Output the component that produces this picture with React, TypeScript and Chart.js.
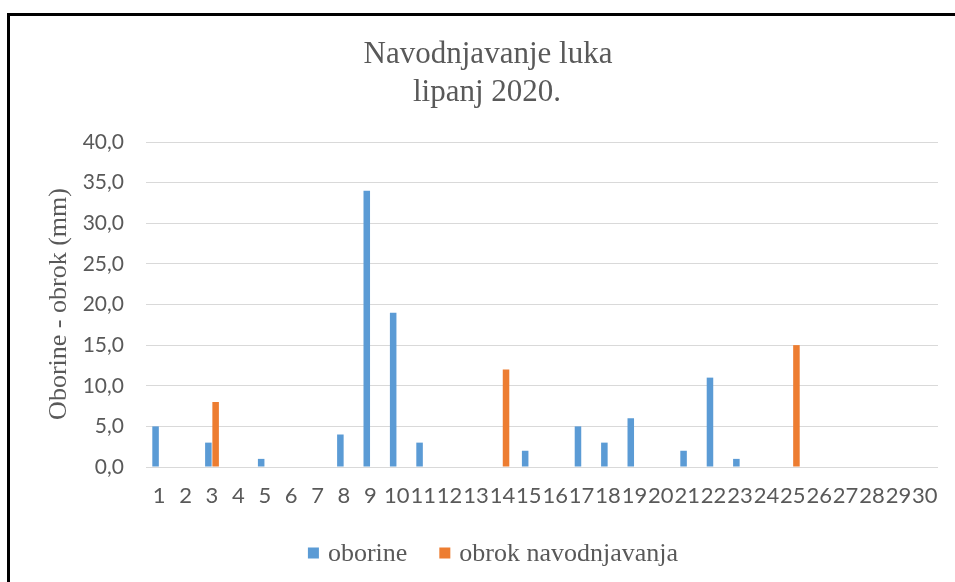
import React, { useEffect, useRef } from 'react';
import { Chart, registerables } from 'chart.js';

Chart.register(...registerables);

const days: string[] = [
  '1', '2', '3', '4', '5', '6', '7', '8', '9', '10',
  '11', '12', '13', '14', '15', '16', '17', '18', '19', '20',
  '21', '22', '23', '24', '25', '26', '27', '28', '29', '30',
];

const oborine: (number | null)[] = [
  5, null, 3, null, 1, null, null, 4, 34, 19,
  3, null, null, null, 2, null, 5, 3, 6, null,
  2, 11, 1, null, null, null, null, null, null, null,
];

const obrokNavodnjavanja: (number | null)[] = [
  null, null, 8, null, null, null, null, null, null, null,
  null, null, null, 12, null, null, null, null, null, null,
  null, null, null, null, 15, null, null, null, null, null,
];

const seriesNames: string[] = ['oborine', 'obrok navodnjavanja'];
const titleLines: string[] = ['Navodnjavanje luka', 'lipanj 2020.'];
const yAxisTitle = 'Oborine - obrok (mm)';
const yMin = 0;
const yMax = 40;
const yStep = 5;

const BLUE = '#5b9bd5';
const ORANGE = '#ed7d31';
const TEXT = '#595959';
const GRID = '#d9d9d9';

const decorPlugin = {
  id: 'decor',
  afterDraw(chart: any) {
    const ctx = chart.ctx as CanvasRenderingContext2D;
    ctx.save();
    // Title
    ctx.fillStyle = TEXT;
    ctx.font = '31px "Liberation Serif", "Times New Roman", serif';
    ctx.textAlign = 'center';
    ctx.textBaseline = 'alphabetic';
    ctx.fillText(titleLines[0], 488, 63);
    ctx.fillText(titleLines[1], 487, 101);

    // Y axis title
    ctx.save();
    ctx.translate(59, 304);
    ctx.rotate(-Math.PI / 2);
    ctx.font = '26px "Liberation Serif", "Times New Roman", serif';
    ctx.textAlign = 'center';
    ctx.textBaseline = 'middle';
    ctx.fillText(yAxisTitle, 0, 0);
    ctx.restore();

    // Legend
    ctx.font = '26px "Liberation Serif", "Times New Roman", serif';
    ctx.textBaseline = 'middle';
    ctx.textAlign = 'left';
    const box = 11;
    const boxGap = 9;
    const itemGap = 32;
    const ds = chart.data.datasets;
    const widths = ds.map((d: any) => box + boxGap + ctx.measureText(d.label).width);
    const total = widths.reduce((a: number, b: number) => a + b, 0) + itemGap * (ds.length - 1);
    let x = 493 - total / 2;
    const cy = 553;
    ds.forEach((d: any, i: number) => {
      ctx.fillStyle = d.backgroundColor;
      ctx.fillRect(x, cy - box / 2, box, box);
      ctx.fillStyle = TEXT;
      ctx.fillText(d.label, x + box + boxGap, cy + 1);
      x += widths[i] + itemGap;
    });
    ctx.restore();
  },
};

export default function App() {
  const canvasRef = useRef<HTMLCanvasElement | null>(null);

  useEffect(() => {
    document.body.style.overflow = 'hidden';
    const canvas = canvasRef.current;
    if (!canvas) return;
    const chart = new Chart(canvas, {
      type: 'bar',
      data: {
        labels: days,
        datasets: [
          {
            label: seriesNames[0],
            data: oborine,
            backgroundColor: BLUE,
            borderWidth: 0,
            categoryPercentage: 0.55,
            barPercentage: 0.9,
          },
          {
            label: seriesNames[1],
            data: obrokNavodnjavanja,
            backgroundColor: ORANGE,
            borderWidth: 0,
            categoryPercentage: 0.55,
            barPercentage: 0.9,
          },
        ],
      },
      options: {
        animation: false,
        responsive: false,
        maintainAspectRatio: false,
        devicePixelRatio: 1,
        layout: {
          padding: { top: 142, right: 17, bottom: 65, left: 0 },
        },
        plugins: {
          legend: { display: false },
          title: { display: false },
          tooltip: { enabled: false },
        },
        scales: {
          x: {
            grid: { display: false, drawTicks: false },
            border: { display: false },
            ticks: {
              color: TEXT,
              font: { family: 'Lato, "Liberation Sans", sans-serif', size: 22 },
              padding: 16,
              maxRotation: 0,
              minRotation: 0,
              autoSkip: false,
            },
            afterFit: (scale: any) => {
              scale.height = 50;
            },
          },
          y: {
            min: yMin,
            max: yMax,
            grid: { color: GRID, lineWidth: 1, drawTicks: false },
            border: { display: false },
            ticks: {
              stepSize: yStep,
              color: TEXT,
              font: { family: 'Lato, "Liberation Sans", sans-serif', size: 21 },
              padding: 22,
              callback: (v: any) => Number(v).toFixed(1).replace('.', ','),
            },
            afterFit: (scale: any) => {
              scale.width = 146;
            },
          },
        },
      },
      plugins: [decorPlugin],
    });
    return () => chart.destroy();
  }, []);

  return (
    <div style={{ position: 'absolute', left: 0, top: 0, width: 955, height: 582, overflow: 'hidden', background: '#fff' }}>
      <canvas ref={canvasRef} width={955} height={582} style={{ position: 'absolute', left: 0, top: 0, width: 955, height: 582 }} />
      <div
        style={{
          position: 'absolute',
          left: 7,
          top: 13,
          width: 1000,
          height: 1000,
          borderLeft: '3px solid #000',
          borderTop: '3px solid #000',
          pointerEvents: 'none',
        }}
      />
    </div>
  );
}
